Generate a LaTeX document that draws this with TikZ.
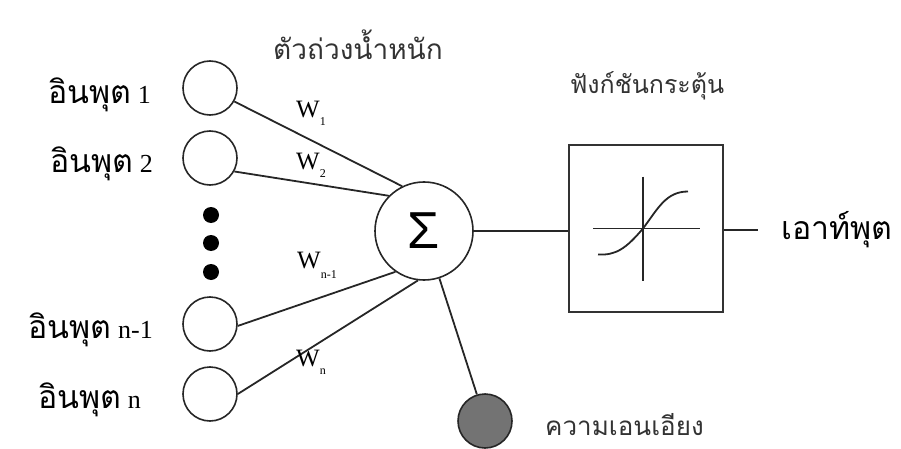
\documentclass[tikz,border=0pt]{standalone}
\usepackage{fontspec}
\setmainfont{Liberation Serif}
\newfontfamily\thaifont[Script=Thai]{Loma}
\newfontfamily\sigmafont{Liberation Sans}
\begin{document}
\begin{tikzpicture}[x=1pt,y=-1pt,
  wire/.style={line width=1.8pt,draw=black!85},
  unit/.style={circle,draw=black!85,line width=1.6pt,minimum size=54pt,inner sep=0pt},
  sumunit/.style={circle,draw=black!85,line width=1.6pt,minimum size=98pt,inner sep=0pt},
  biasunit/.style={circle,draw=black!85,line width=1.6pt,minimum size=54pt,inner sep=0pt,fill=black!55},
  dotmark/.style={circle,fill=black,minimum size=16pt,inner sep=0pt},
  actbox/.style={draw=black!80,line width=2pt,minimum width=154pt,minimum height=167pt,inner sep=0pt},
  inlabel/.style={inner sep=0pt,font=\fontsize{26}{28}\selectfont},
  title/.style={inner sep=0pt,text=black!80,font=\thaifont\fontsize{28}{30}\selectfont},
  wlabel/.style={inner sep=0pt,font=\fontsize{25}{26}\selectfont}]
\useasboundingbox (0,0) rectangle (901,449);

% inputs
\node[unit] (in1) at (210,88) {};
\node[unit] (in2) at (210,158) {};
\node[unit] (inm) at (210,324) {};
\node[unit] (inn) at (210,394) {};
\node[dotmark] (d1) at (211,215) {};
\node[dotmark] (d2) at (211,243) {};
\node[dotmark] (d3) at (211,272) {};

\newcommand{\thaiin}{{\thaifont\fontsize{32}{34}\selectfont อินพุต}}
\node[inlabel,anchor=base east] (l1) at (151,104) {\thaiin\ 1};
\node[inlabel,anchor=base east] (l2) at (153,172) {\thaiin\ 2};
\node[inlabel,anchor=base east] (lm) at (153,338) {\thaiin\ n-1};
\node[inlabel,anchor=base east] (ln) at (141,408) {\thaiin\ n};

% summing unit, bias and activation
\node[sumunit] (sum) at (424,231) {\sigmafont\fontsize{52}{52}\selectfont Σ};
\node[biasunit] (bias) at (485,421) {};
\node[actbox] (act) at (646,228.5) {};
\coordinate (out) at (758,230);

% weighted connections
\draw[wire] (in1.-29) -- (sum.116);
\draw[wire] (in2.-29) -- (sum.135);
\draw[wire] (inm.-4) -- (sum.235);
\draw[wire] (inn.0) -- (sum.263);
\draw[wire] (sum.288) -- (bias.107);
\draw[wire] (sum.east) -- (act.west |- sum.east);
\draw[wire] (act.east |- out) -- (out);

% sigmoid inside the activation box
\begin{scope}[shift={(act.center)}]
  \draw[wire] (-53,0) -- (54,0);
  \draw[wire] (-3,-52) -- (-3,52);
  \draw[wire] (-48,26) .. controls (-30,27) and (-20,20) .. (-3,0)
              .. controls (12,-20) and (20,-37) .. (42,-37);
\end{scope}

% weight labels
\node[wlabel] (w1) at (311,113) {W\raisebox{-8pt}{\fontsize{12}{12}\selectfont 1}};
\node[wlabel] (w2) at (311,165) {W\raisebox{-8pt}{\fontsize{12}{12}\selectfont 2}};
\node[wlabel,anchor=west] (wm) at (297,265) {W\raisebox{-10pt}{\fontsize{12}{12}\selectfont n-1}};
\node[wlabel] (wn) at (311,362) {W\raisebox{-8pt}{\fontsize{12}{12}\selectfont n}};

% titles
\node[title] (tw) at (358,45) {ตัวถ่วงน้ำหนัก};
\node[title,font=\thaifont\fontsize{25}{27}\selectfont] (ta) at (647,86) {ฟังก์ชันกระตุ้น};
\node[title,font=\thaifont\fontsize{26}{27}\selectfont,anchor=base west] (tb) at (545,435) {ความเอนเอียง};
\node[inner sep=0pt,font=\thaifont\fontsize{32}{34}\selectfont,anchor=west] (to) at (781,230) {เอาท์พุต};
\end{tikzpicture}
\end{document}
